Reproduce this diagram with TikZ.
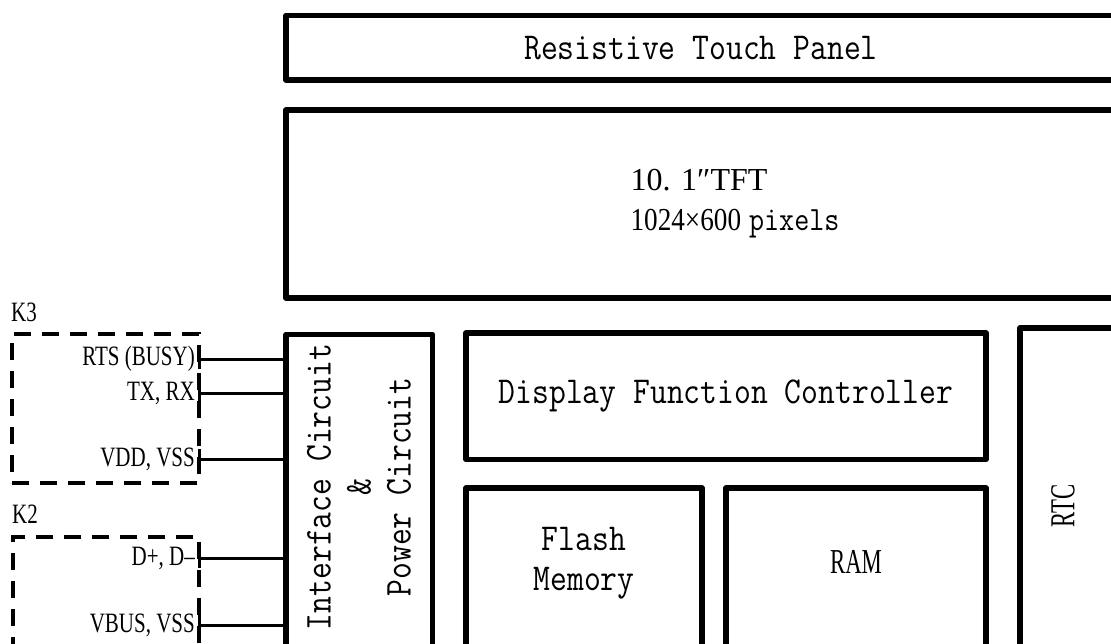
\documentclass[tikz,border=0pt]{standalone}
\usepackage{fontspec}
\newfontfamily\simmono[FakeStretch=0.86]{Latin Modern Mono}
\newfontfamily\simserif{Liberation Serif}
\newfontfamily\simdigit[FakeStretch=0.85]{Liberation Serif}
\newfontfamily\simnarrow[FakeStretch=0.75]{Liberation Serif}
\newfontfamily\simtall[FakeStretch=0.65]{Liberation Serif}
\newcommand{\bigmono}{\simmono\fontsize{38}{40}\selectfont}
\newcommand{\pinfont}{\simnarrow\fontsize{28}{30}\selectfont}
\newcommand{\tallserif}{\simtall\fontsize{35}{40}\selectfont}
\tikzset{
  blk/.style={draw, line width=5.5pt, line join=round, inner sep=0pt,
              outer sep=0pt, anchor=north west},
  kbox/.style={draw, line width=3.2pt, dash pattern=on 17pt off 11pt,
               inner sep=0pt, outer sep=0pt, anchor=north west},
  pinlabel/.style={anchor=east, inner sep=0pt, font=\pinfont},
  pinwire/.style={line width=3pt},
}
\newcommand{\pinline}[4]{% name, y, label, connector box
  \node[pinlabel] (#1) at (195,#2) {#3};
  \draw[pinwire] (#1.east -| #4.east) ++(0,-10) -- ++(0,20);
  \draw[pinwire] (#1.east -| #4.east) -- (#1.east -| iface.west);
}
\begin{document}
\begin{tikzpicture}[x=1pt, y=-1pt]
  \useasboundingbox (0,0) rectangle (1111,644);
  \clip (0,0) rectangle (1111,644);

  % panel and display (right edges run off the page)
  \node[blk, minimum width=830, minimum height=64.5, font=\bigmono]
    (touch) at (286,15.5) {Resistive Touch Panel};
  \node[blk, minimum width=898, minimum height=188, align=left,
        font=\simserif\fontsize{32}{40}\selectfont]
    (tft) at (286,110)
    {10. 1″TFT\\{\simdigit\fontsize{32}{40}\selectfont 1024×600}
     {\simmono\fontsize{34}{40}\selectfont pixels}};

  % controller blocks
  \node[blk, minimum width=146.5, minimum height=330] (iface) at (286,334.5) {};
  \node[rotate=90, align=center, inner sep=0pt, font=\bigmono]
    (ifacetxt) at (359,487) {Interface Circuit\\\&\\Power Circuit};
  \node[blk, minimum width=520, minimum height=126.5, font=\bigmono]
    (dfc) at (466,333) {Display Function Controller};
  \node[blk, minimum width=236, minimum height=170] (flash) at (466,488) {};
  \node[align=center, inner sep=0pt, font=\bigmono]
    (flashtxt) at (584,563) {Flash\\Memory};
  \node[blk, minimum width=260, minimum height=170] (ram) at (726,488) {};
  \node[inner sep=0pt, font=\tallserif] (ramtxt) at (856,562) {RAM};
  \node[blk, minimum width=200, minimum height=400] (rtc) at (1020,328) {};
  \node[rotate=90, inner sep=0pt, font=\tallserif] (rtctxt) at (1063,506) {RTC};

  % connectors K3 and K2
  \node[kbox, minimum width=187, minimum height=149] (k3) at (12,334) {};
  \node[anchor=base west, inner sep=0pt, font=\pinfont] (k3lbl) at (11,322) {K3};
  \node[kbox, minimum width=186, minimum height=200] (k2) at (13,537) {};
  \node[anchor=base west, inner sep=0pt, font=\pinfont] (k2lbl) at (12,523) {K2};

  \pinline{rts}{359}{RTS (BUSY)}{k3}
  \pinline{txrx}{393}{TX, RX}{k3}
  \pinline{vdd}{459}{VDD, VSS}{k3}
  \pinline{dpdm}{558}{D+, D–}{k2}
  \pinline{vbus}{625}{VBUS, VSS}{k2}
\end{tikzpicture}
\end{document}
